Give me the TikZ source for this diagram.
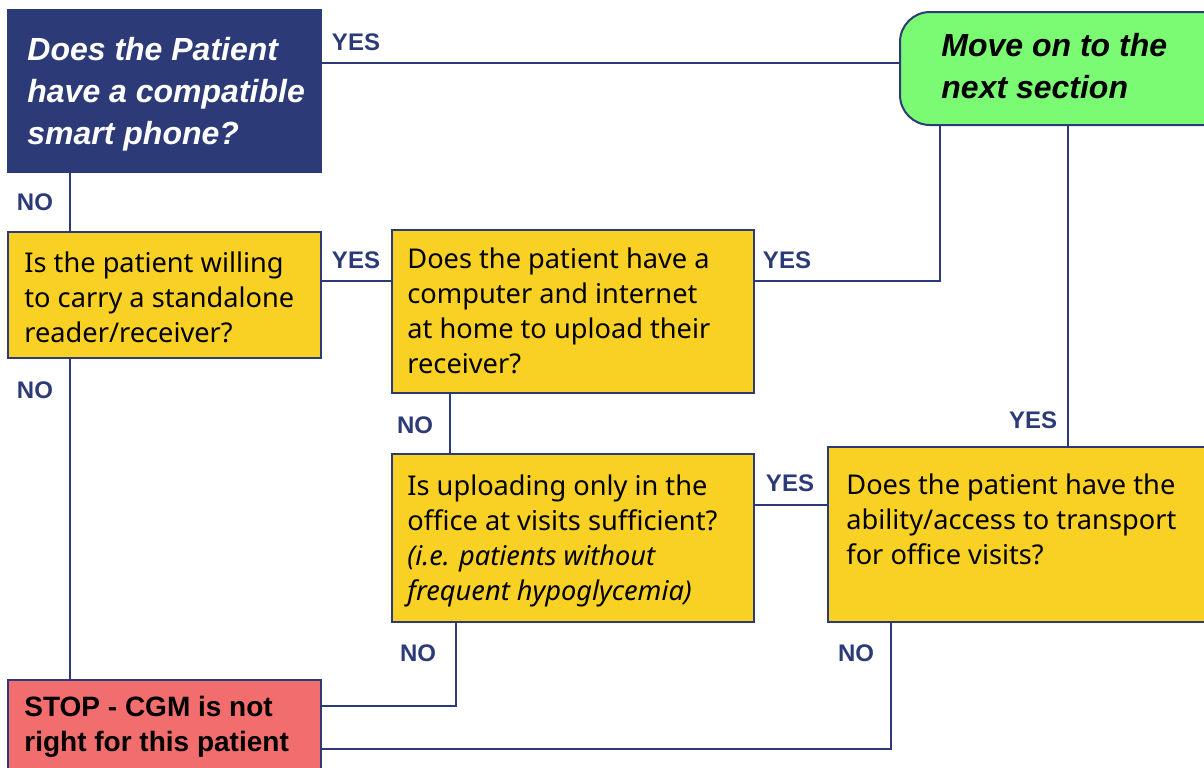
\documentclass[tikz,border=0pt]{standalone}
\usepackage{fontspec}
\setmainfont{Liberation Sans}
\newfontfamily\bodyfont{Noto Sans}
\usetikzlibrary{calc}
\definecolor{navy}{HTML}{2D3A78}
\definecolor{qyellow}{HTML}{F9D124}
\definecolor{qgreen}{HTML}{7BFA73}
\definecolor{qred}{HTML}{F26D6D}
\tikzset{
  box/.style={draw=navy, line width=1pt, anchor=north west, inner sep=0pt, outer sep=0pt},
  qbox/.style={box, fill=qyellow},
  btxt/.style={anchor=north west, inner sep=0pt, align=left, font=\bodyfont\fontsize{13.6}{17.5}\selectfont},
  ttxt/.style={anchor=north west, inner sep=0pt, align=left, font=\fontsize{16}{21}\selectfont\bfseries\itshape},
  lbl/.style={text=navy, font=\fontsize{12}{14}\selectfont\bfseries, inner sep=0pt},
  conn/.style={draw=navy, line width=1.3pt},
}
\begin{document}
\begin{tikzpicture}[x=0.5pt, y=-0.5pt]
\useasboundingbox[clip] (0,0) rectangle (1204,767);
% boxes
\node[box, fill=navy, minimum width=313*0.5pt, minimum height=162*0.5pt] (q1) at (8,10) {};
\node[box, fill=qgreen, rounded corners=15pt, minimum width=340*0.5pt, minimum height=113*0.5pt] (mv) at (900,12) {};
\node[qbox, minimum width=313*0.5pt, minimum height=126*0.5pt] (q2) at (8,232) {};
\node[qbox, minimum width=362*0.5pt, minimum height=163*0.5pt] (q3) at (392,230) {};
\node[qbox, minimum width=362*0.5pt, minimum height=168*0.5pt] (q4) at (392,454) {};
\node[qbox, minimum width=400*0.5pt, minimum height=175*0.5pt] (q5) at (828,447) {};
\node[box, fill=qred, minimum width=313*0.5pt, minimum height=120*0.5pt] (st) at (8,680) {};
% texts
\node[ttxt, text=white] (t1) at (27,37) {Does the Patient\\have a compatible\\smart phone?};
\node[ttxt, text=black] (tm) at (941,33) {Move on to the\\next section};
\node[btxt] (t2) at (24,251) {Is the patient willing\\to carry a standalone\\reader/receiver?};
\node[btxt] (t3) at (407,247) {Does the patient have a\\computer and internet\\at home to upload their\\receiver?};
\node[btxt] (t4) at (407,474) {Is uploading only in the\\office at visits sufficient?\\\textit{(i.e. patients without}\\\textit{frequent hypoglycemia)}};
\node[btxt] (t5) at (846,473) {Does the patient have the\\ability/access to transport\\for office visits?};
\node[btxt, font=\fontsize{14}{17.5}\selectfont\bfseries] (ts) at (24,696) {STOP - CGM is not\\right for this patient};
% connectors
\coordinate (c1) at ($(q1.north east)+(0,53)$);
\draw[conn] (c1) -- (c1 -| mv.west);
\coordinate (c2) at ($(q1.south west)+(62,0)$);
\draw[conn] (c2) -- (c2 |- q2.north);
\coordinate (c3) at ($(q2.north east)+(0,49)$);
\draw[conn] (c3) -- (c3 -| q3.west);
\coordinate (c4) at ($(q3.north east)+(0,51)$);
\coordinate (c4b) at ($(mv.south west)+(40,0)$);
\draw[conn] (c4) -| (c4b);
\coordinate (c5) at ($(mv.south west)+(168,0)$);
\draw[conn] (c5) -- (c5 |- q5.north);
\coordinate (c6) at ($(q2.south west)+(62,0)$);
\draw[conn] (c6) -- (c6 |- st.north);
\coordinate (c7) at ($(q3.south west)+(58,0)$);
\draw[conn] (c7) -- (c7 |- q4.north);
\coordinate (c8) at ($(q4.north east)+(0,51)$);
\draw[conn] (c8) -- (c8 -| q5.west);
\coordinate (c9) at ($(q4.south west)+(64,0)$);
\coordinate (c9b) at ($(st.north east)+(0,26)$);
\draw[conn] (c9) |- (c9b);
\coordinate (c10) at ($(q5.south west)+(63,0)$);
\coordinate (c10b) at ($(st.north east)+(0,69)$);
\draw[conn] (c10) |- (c10b);
% labels
\node[lbl] (y1) at (356,42) {YES};
\node[lbl] (n1) at (35,202) {NO};
\node[lbl] (y2) at (356,260) {YES};
\node[lbl] (n2) at (35,390) {NO};
\node[lbl] (y3) at (787,260) {YES};
\node[lbl] (y4) at (1033,420) {YES};
\node[lbl] (n3) at (415,425) {NO};
\node[lbl] (y5) at (790,483) {YES};
\node[lbl] (n4) at (418,653) {NO};
\node[lbl] (n5) at (856,653) {NO};
\end{tikzpicture}
\end{document}
